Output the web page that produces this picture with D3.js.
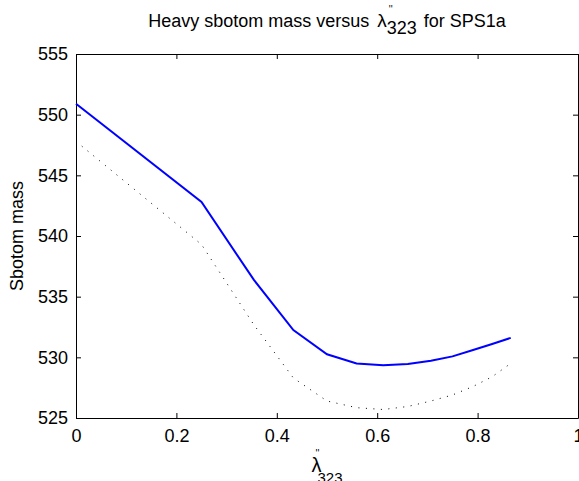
<!DOCTYPE html>
<html>
<head>
<meta charset="utf-8">
<script src="https://cdn.jsdelivr.net/npm/d3@7"></script>
<style>
  body { margin: 0; background: #fff; overflow: hidden; }
  svg { display: block; }
  text { font-family: "Liberation Sans", Arial, Helvetica, sans-serif; fill: #000; }
</style>
</head>
<body>
<svg id="chart" width="579" height="481"></svg>
<script>
// lambda''_323 samples
var lambdaVals = [0, 0.25, 0.354, 0.433, 0.5, 0.559, 0.612, 0.661, 0.707, 0.75, 0.791, 0.829, 0.866]
// heavy sbottom mass, solid blue curve
var massSolid = [550.9, 542.8, 536.4, 532.25, 530.25, 529.5, 529.34, 529.45, 529.72, 530.08, 530.6, 531.1, 531.6]
// dotted black curve
var massDotted = [547.8, 539.3, 532.7, 528.3, 526.4, 525.85, 525.7, 525.95, 526.4, 526.9, 527.6, 528.4, 529.5]

var xTicks = [0, 0.2, 0.4, 0.6, 0.8, 1]
var yTicks = [525, 530, 535, 540, 545, 550, 555]

var LEFT = 76, RIGHT = 578, TOP = 54, BOTTOM = 418
var FONT = 18
var SERIF = '"DejaVu Serif", "Liberation Serif", serif'
var svg = d3.select('#chart')

var x = d3.scaleLinear().domain([0, 1]).range([LEFT, RIGHT])
var y = d3.scaleLinear().domain([525, 555]).range([BOTTOM, TOP])

// axes, MATLAB style: ticks inside, box all round
var fmtX = function(d) { return d === 0 || d === 1 ? String(d) : d3.format('.1f')(d) }

svg.append('g')
  .attr('transform', 'translate(0,' + BOTTOM + ')')
  .call(d3.axisBottom(x).tickValues(xTicks).tickSizeInner(-5).tickSizeOuter(0).tickPadding(11).tickFormat(fmtX))
svg.append('g')
  .attr('transform', 'translate(0,' + TOP + ')')
  .call(d3.axisTop(x).tickValues(xTicks).tickSizeInner(-5).tickSizeOuter(0).tickFormat(''))
svg.append('g')
  .attr('transform', 'translate(' + LEFT + ',0)')
  .call(d3.axisLeft(y).tickValues(yTicks).tickSizeInner(-5).tickSizeOuter(0).tickPadding(8))
svg.append('g')
  .attr('transform', 'translate(' + RIGHT + ',0)')
  .call(d3.axisRight(y).tickValues(yTicks).tickSizeInner(-5).tickSizeOuter(0).tickFormat(''))

svg.selectAll('.domain').attr('stroke', '#000').attr('stroke-width', 1)
svg.selectAll('.tick line').attr('stroke', '#000')
svg.selectAll('.tick text').attr('font-size', FONT).attr('fill', '#000')
  .attr('font-family', '"Liberation Sans", Arial, sans-serif')

var line = d3.line()
  .x(function(d) { return x(d[0]) })
  .y(function(d) { return y(d[1]) })

svg.append('path')
  .datum(d3.zip(lambdaVals, massDotted))
  .attr('fill', 'none')
  .attr('stroke', '#000')
  .attr('stroke-width', 1)
  .attr('stroke-dasharray', '1,6.5')
  .attr('d', line)

svg.append('path')
  .datum(d3.zip(lambdaVals, massSolid))
  .attr('fill', 'none')
  .attr('stroke', '#0000ff')
  .attr('stroke-width', 2)
  .attr('d', line)

// lays text pieces one after another, then centres the group on cx
function richText(cx, baseY, pieces) {
  var g = svg.append('g')
  var pos = 0
  pieces.forEach(function(p) {
    var t = g.append('text')
      .attr('x', pos + (p.dx || 0))
      .attr('y', p.dy || 0)
      .attr('font-size', p.size)
      .text(p.text)
    if (p.family) t.attr('font-family', p.family)
    var w = t.node().getComputedTextLength()
    if (!p.overlay) pos += (p.dx || 0) + w
  })
  g.attr('transform', 'translate(' + (cx - pos / 2) + ',' + baseY + ')')
  return g
}

// title
richText((LEFT + RIGHT) / 2, 27, [
  { text: 'Heavy sbotom mass versus', size: FONT },
  { text: 'λ', size: 19, family: SERIF, dx: 8 },
  { text: "''", size: 10, dx: 2, dy: -14, overlay: true },
  { text: '323', size: 18, dx: 0, dy: 7 },
  { text: 'for SPS1a', size: FONT, dx: 7 }
])

// x label
richText((LEFT + RIGHT) / 2, 472, [
  { text: 'λ', size: 20, family: SERIF },
  { text: "''", size: 10, dx: -6, dy: -15, overlay: true },
  { text: '323', size: 15, dx: -4, dy: 11 }
])

// y label
svg.append('text')
  .attr('transform', 'translate(23,' + (TOP + BOTTOM) / 2 + ') rotate(-90)')
  .attr('text-anchor', 'middle')
  .attr('font-size', FONT)
  .text('Sbotom mass')
</script>
</body>
</html>
